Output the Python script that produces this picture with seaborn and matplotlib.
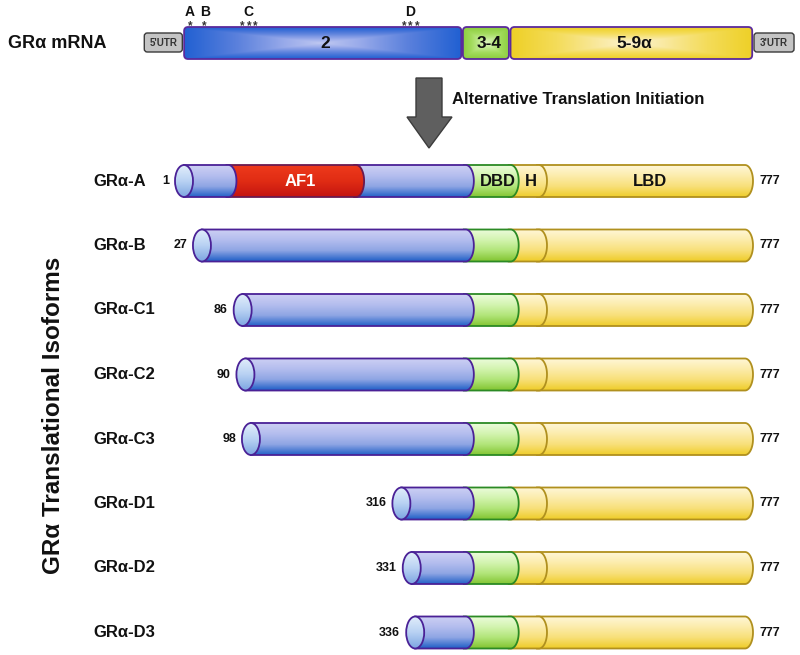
import numpy as np
import matplotlib
matplotlib.use("Agg")
import matplotlib.pyplot as plt
import seaborn as sns
from matplotlib.patches import Ellipse, PathPatch, FancyBboxPatch, Polygon
from matplotlib.path import Path

# ---------------- data ----------------
isoform_names = ["GRα-A", "GRα-B", "GRα-C1", "GRα-C2", "GRα-C3", "GRα-D1", "GRα-D2", "GRα-D3"]
isoform_starts = [1, 27, 86, 90, 98, 316, 331, 336]
protein_end = 777

# protein domains (residue numbers)
af1_range = (77, 262)
dbd_range = (421, 486)
hinge_range = (487, 527)
lbd_range = (528, 777)
domain_labels = ["AF1", "DBD", "H", "LBD"]

# mRNA schematic (edges in residue-scale units)
mrna_labels = ["5'UTR", "2", "3-4", "5-9α", "3'UTR"]
mrna_edges = [-58, 0, 404, 473, 777, 828]
site_labels = ["A", "B", "C", "D"]
site_positions = [7, 28, 92, 326]
site_counts = [1, 1, 3, 3]

# ---------------- style ----------------
sns.set_theme(style="white")
plt.rcParams['font.family'] = ['Liberation Sans', 'DejaVu Sans']

fig = plt.figure(figsize=(8, 6.55), dpi=100)
ax = fig.add_axes([0, 0, 1, 1])
ax.set_autoscale_on(False)

X0, SLOPE1, XH, SLOPE2 = 184.0, 0.6901, 547.0, 0.824


def res_x(aa):
    aa = float(aa)
    if aa <= hinge_range[1]:
        return X0 + (aa - 1) * SLOPE1
    return XH + (aa - hinge_range[1]) * SLOPE2


blue_cm = sns.blend_palette(["#cdd0f4", "#b4bdee", "#8fa6e4", "#2462c8"], as_cmap=True)
cap_cm = sns.blend_palette(["#e2eefb", "#b9d2f3", "#7fa7e2"], as_cmap=True)
green_cm = sns.blend_palette(["#ecfcdc", "#d3f4b0", "#b2e57a", "#84c634"], as_cmap=True)
yellow_cm = sns.blend_palette(["#fff7d8", "#fcecac", "#f8e07a", "#efcd2c"], as_cmap=True)
red_cm = sns.blend_palette(["#ee3a1c", "#e02c14", "#c41410"], as_cmap=True)

BLUE_EDGE = "#4a2196"
GREEN_EDGE = "#2b8a24"
YELLOW_EDGE = "#b0901e"
RED_EDGE = "#6a1a50"

vgrad = np.linspace(0, 1, 80).reshape(-1, 1)
H_BAR = 32
RX = 8


def seg_path(x0, x1, yc, h, rx):
    top, bot = yc - h / 2, yc + h / 2
    th = np.linspace(-np.pi / 2, np.pi / 2, 40)
    arc = np.column_stack([x1 - rx + rx * np.cos(th), yc + h / 2 * np.sin(th)])
    verts = np.vstack([[x0, top], arc, [x0, bot], [x0, top]])
    codes = [Path.MOVETO] + [Path.LINETO] * (len(verts) - 2) + [Path.CLOSEPOLY]
    return Path(verts, codes)


def draw_grad_patch(patch, cmap, extent, z, grad=vgrad):
    ax.add_patch(patch)
    im = ax.imshow(grad, cmap=cmap, extent=extent, aspect='auto', zorder=z,
                   interpolation='bilinear', vmin=0, vmax=1)
    im.set_clip_path(patch)


def draw_segment(x0, x1, yc, cmap, edge, z):
    p = PathPatch(seg_path(x0, x1, yc, H_BAR, RX), facecolor='none', edgecolor=edge,
                  lw=1.3, zorder=z + 0.5)
    clip = PathPatch(seg_path(x0, x1, yc, H_BAR, RX), facecolor='none', edgecolor='none', zorder=z)
    draw_grad_patch(clip, cmap, [x0, x1, yc + H_BAR / 2, yc - H_BAR / 2], z)
    ax.add_patch(p)


row_y = [181 + 64.5 * i for i in range(len(isoform_names))]

for i, (name, start) in enumerate(zip(isoform_names, isoform_starts)):
    yc = row_y[i]
    xc = res_x(start)
    tips_colors = []
    if name == "GRα-A":
        tips_colors.append((res_x(af1_range[0]), blue_cm, BLUE_EDGE))
        tips_colors.append((res_x(af1_range[1]), red_cm, RED_EDGE))
    tips_colors.append((res_x(dbd_range[0]), blue_cm, BLUE_EDGE))
    tips_colors.append((res_x(dbd_range[1]), green_cm, GREEN_EDGE))
    tips_colors.append((res_x(hinge_range[1]), yellow_cm, YELLOW_EDGE))
    tips_colors.append((res_x(protein_end), yellow_cm, YELLOW_EDGE))
    segs = []
    left = xc
    for tip, cm, ed in tips_colors:
        segs.append((left, tip, cm, ed))
        left = tip - RX - 2
    z = 2
    for (a, b, cm, ed) in reversed(segs):
        draw_segment(a, b, yc, cm, ed, z)
        z += 1
    # start cap
    cap = Ellipse((xc, yc), 18, H_BAR, facecolor='none', edgecolor='none', zorder=z)
    draw_grad_patch(cap, cap_cm, [xc - 9, xc + 9, yc + H_BAR / 2, yc - H_BAR / 2], z)
    ax.add_patch(Ellipse((xc, yc), 18, H_BAR, facecolor='none', edgecolor=BLUE_EDGE,
                         lw=1.3, zorder=z + 0.5))
    # labels
    ax.text(93, yc, name, fontsize=12, fontweight='bold', ha='left', va='center',
            color='#111111', zorder=30)
    ax.text(xc - 9 - 6, yc, str(start), fontsize=9, fontweight='bold', ha='right',
            va='center', color='#111111', zorder=30)
    ax.text(res_x(protein_end) + 7, yc, str(protein_end), fontsize=9, fontweight='bold',
            ha='left', va='center', color='#111111', zorder=30)
    if name == "GRα-A":
        yA = yc
        ax.text((res_x(af1_range[0]) + res_x(af1_range[1])) / 2, yA, domain_labels[0],
                fontsize=12, fontweight='bold', color='white', ha='center', va='center', zorder=30)
        ax.text((res_x(dbd_range[0]) + res_x(dbd_range[1])) / 2 + 2, yA, domain_labels[1],
                fontsize=12, fontweight='bold', color='#111111', ha='center', va='center', zorder=30)
        ax.text((res_x(hinge_range[0]) + res_x(hinge_range[1])) / 2 - 2, yA, domain_labels[2],
                fontsize=12, fontweight='bold', color='#111111', ha='center', va='center', zorder=30)
        ax.text((res_x(lbd_range[0]) + res_x(lbd_range[1])) / 2, yA, domain_labels[3],
                fontsize=12, fontweight='bold', color='#111111', ha='center', va='center', zorder=30)

# ---------------- mRNA ----------------
ax.text(8, 43, "GRα mRNA", fontsize=13, fontweight='bold', ha='left', va='center', color='#111111')

exon_maps = {
    "2": sns.blend_palette(["#c3cbf2", "#98aaea", "#5a80dc", "#2160d2"], as_cmap=True),
    "3-4": sns.blend_palette(["#e2f8c8", "#c4ec94", "#a2db5c", "#8ccd3e"], as_cmap=True),
    "5-9α": sns.blend_palette(["#fdf5d8", "#f9e9a0", "#f4dc5a", "#eed026"], as_cmap=True),
}
for k, lab in enumerate(mrna_labels):
    xa, xb = res_x(mrna_edges[k]), res_x(mrna_edges[k + 1])
    if lab.endswith("UTR"):
        ax.add_patch(FancyBboxPatch((xa + 1, 33), xb - xa - 2, 19,
                                    boxstyle="round,pad=0,rounding_size=3",
                                    facecolor="#c4c4c4", edgecolor="#3a3a3a", lw=1.0, zorder=3))
        ax.text((xa + xb) / 2, 42.5, lab, fontsize=7, fontweight='bold', ha='center',
                va='center', color='#333333', zorder=5)
    else:
        yt, yb = 27, 59
        box = FancyBboxPatch((xa + 0.8, yt), xb - xa - 1.6, yb - yt,
                             boxstyle="round,pad=0,rounding_size=4",
                             facecolor='none', edgecolor='none', zorder=3)
        w = max(int(xb - xa), 10)
        u = np.abs(np.linspace(-1, 1, w))[None, :]
        v = np.abs(np.linspace(-1, 1, 40))[:, None]
        g = np.maximum(u, v) ** 0.85
        draw_grad_patch(box, exon_maps[lab], [xa, xb, yb, yt], 3, grad=g)
        ax.add_patch(FancyBboxPatch((xa + 0.8, yt), xb - xa - 1.6, yb - yt,
                                    boxstyle="round,pad=0,rounding_size=4",
                                    facecolor='none', edgecolor="#5a2a9c", lw=1.3, zorder=4))
        ax.text((xa + xb) / 2 + 3, 43.5, lab, fontsize=12.5, fontweight='bold', ha='center',
                va='center', color='#111111', zorder=5)

for lab, pos, n in zip(site_labels, site_positions, site_counts):
    x = res_x(pos) + 2
    ax.text(x, 11.5, lab, fontsize=10, fontweight='bold', ha='center', va='center', color='#111111')
    offs = (np.arange(n) - (n - 1) / 2) * 6.5
    for o in offs:
        ax.text(x + o, 29.5, "*", fontsize=8.5, fontweight='bold', ha='center', va='baseline',
                color='#333333')

# ---------------- arrow ----------------
arrow = Polygon([[416, 78], [442, 78], [442, 117], [452, 117], [429, 148],
                 [407, 117], [416, 117]], closed=True, facecolor="#5f5f5f",
                edgecolor="#3c3c3c", lw=1.0, zorder=5)
ax.add_patch(arrow)
ax.text(452, 99, "Alternative Translation Initiation", fontsize=12, fontweight='bold',
        ha='left', va='center', color='#111111')

# ---------------- side title ----------------
ax.text(54, 415, "GRα Translational Isoforms", rotation=90, fontsize=17.5,
        fontweight='bold', ha='center', va='center', color='#111111')

ax.set_xlim(0, 800)
ax.set_ylim(655, 0)
ax.axis('off')
fig.savefig("out.png", dpi=100, facecolor='white')
